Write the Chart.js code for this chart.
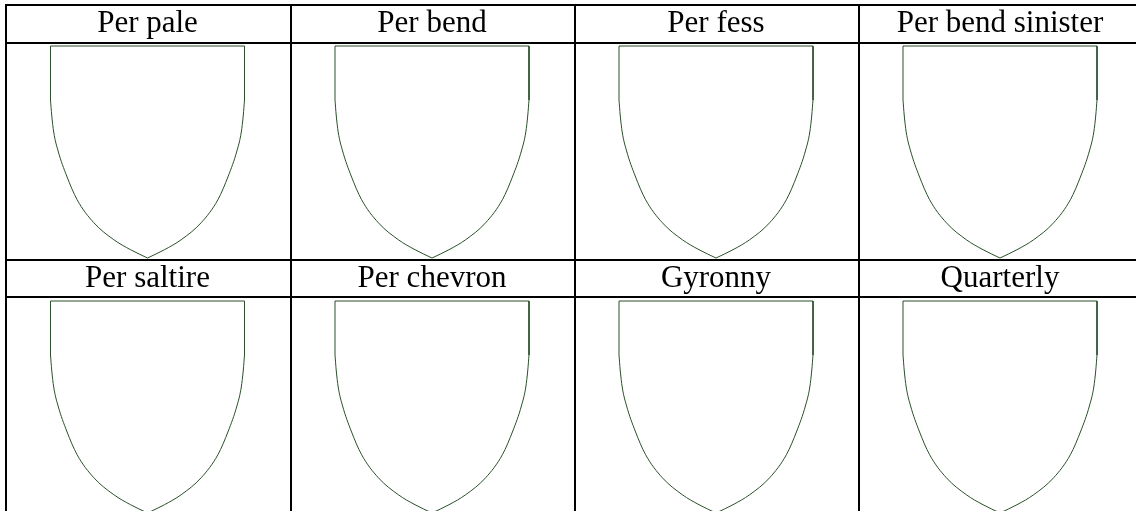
<!DOCTYPE html>
<html>
<head>
<meta charset="utf-8">
<script src="https://cdn.jsdelivr.net/npm/chart.js@4"></script>
<style>
  body { margin: 0; background: #fff; }
  #board { position: relative; width: 1136px; height: 511px; overflow: hidden; }
  #board canvas { position: absolute; }
  .rule { position: absolute; background: #000; z-index: 2; }
</style>
</head>
<body>
<div id="board"></div>
<script>
let names = ['Per pale', 'Per bend', 'Per fess', 'Per bend sinister',
             'Per saltire', 'Per chevron', 'Gyronny', 'Quarterly'];

// shield outline (tip at y = 0)
let frameX = [0, 0, 194, 194];
let frameY = [158, 212, 212, 158];
let leftX  = [0, 1.2, 3.2, 7.6, 16.2, 26.6, 43.3, 63.3, 80, 97];
let leftY  = [158, 143, 126, 107, 82, 58.3, 35.3, 18.3, 8.3, 0];
let rightX = [97, 114, 130.7, 150.7, 167.4, 177.8, 186.4, 190.8, 192.8, 194];
let rightY = [0, 8.3, 18.3, 35.3, 58.3, 82, 107, 126, 143, 158];

// table grid (px)
let colEdges = [5, 290, 574, 858, 1142];
let rowEdges = [4, 259, 514];
let headLines = [42, 296];

let board = document.getElementById('board');

function pts(xs, ys) {
    return xs.map((x, i) => ({ x: x, y: ys[i] }));
}

function addRule(left, top, width, height) {
    let d = document.createElement('div');
    d.className = 'rule';
    d.style.left = left + 'px';
    d.style.top = top + 'px';
    d.style.width = width + 'px';
    d.style.height = height + 'px';
    board.appendChild(d);
}

names.forEach((name, i) => {
    let col = i % 4;
    let row = Math.floor(i / 4);
    let w = colEdges[col + 1] - colEdges[col];
    let h = rowEdges[row + 1] - rowEdges[row];

    let cv = document.createElement('canvas');
    cv.width = w;
    cv.height = h;
    cv.style.left = colEdges[col] + 'px';
    cv.style.top = rowEdges[row] + 'px';
    cv.style.width = w + 'px';
    cv.style.height = h + 'px';
    board.appendChild(cv);

    let line = {
        showLine: true,
        borderColor: '#2a4f2a',
        borderWidth: 1,
        pointRadius: 0,
        fill: false
    };

    new Chart(cv.getContext('2d'), {
        type: 'scatter',
        data: {
            datasets: [
                Object.assign({ data: pts(frameX, frameY), tension: 0 }, line),
                // curved sides: monotone keeps the arc smooth and the tip sharp
                Object.assign({ data: pts(leftX, leftY), cubicInterpolationMode: 'monotone' }, line),
                Object.assign({ data: pts(rightX, rightY), cubicInterpolationMode: 'monotone' }, line)
            ]
        },
        options: {
            responsive: false,
            animation: false,
            devicePixelRatio: 1,
            layout: { padding: 0 },
            scales: {
                x: { type: 'linear', display: false, min: 97 - w / 2, max: 97 + w / 2 },
                y: { type: 'linear', display: false, min: -1, max: 214 }
            },
            plugins: {
                legend: { display: false },
                tooltip: { enabled: false },
                title: {
                    display: true,
                    text: name,
                    color: '#000',
                    font: { family: "'Liberation Serif', 'Times New Roman', serif", size: 31, weight: 'normal' },
                    padding: { top: 1, bottom: 1.8 }
                }
            }
        }
    });
});

// table rules
colEdges.forEach(x => addRule(x, rowEdges[0], 2, rowEdges[2] - rowEdges[0] + 2));
rowEdges.concat(headLines).forEach(y => addRule(colEdges[0], y, colEdges[4] - colEdges[0] + 2, 2));
</script>
</body>
</html>
